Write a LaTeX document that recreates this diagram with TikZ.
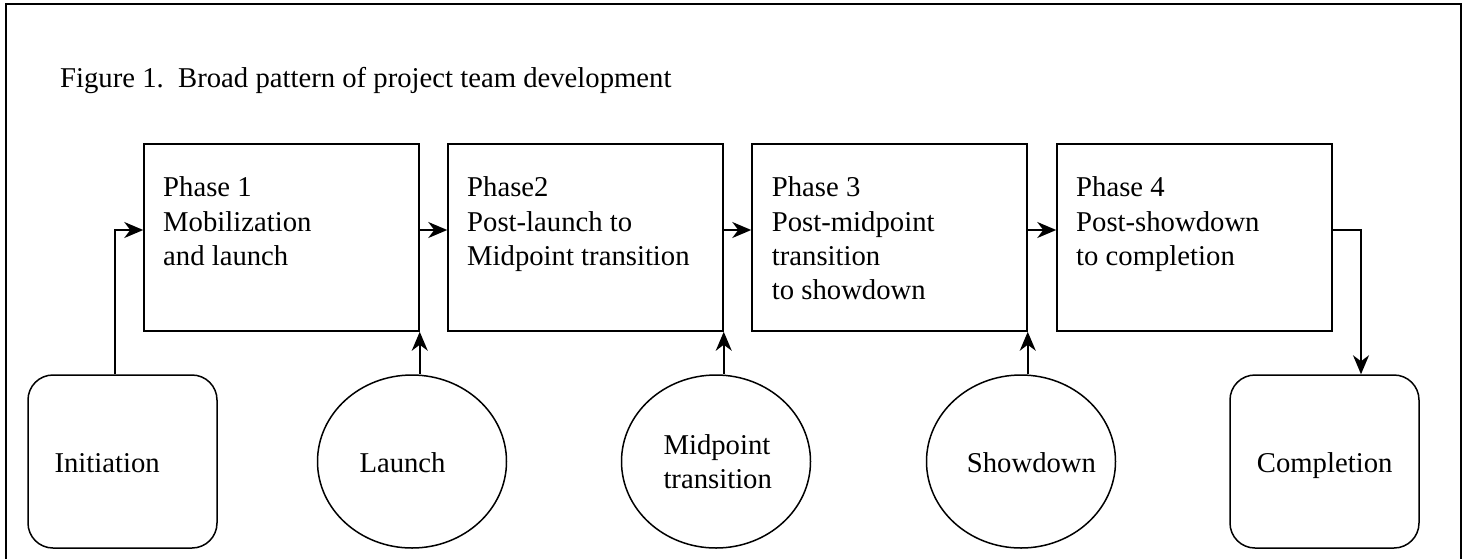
\documentclass[tikz,border=0pt]{standalone}
\usepackage{fontspec}
\setmainfont{Liberation Serif}
\usetikzlibrary{shapes.geometric,arrows.meta,calc}
\begin{document}
\begin{tikzpicture}[x=1pt,y=-1pt,
  phasebox/.style={draw,line width=1.5pt,minimum width=275pt,minimum height=187pt,inner sep=0pt},
  endbox/.style={draw,line width=1.5pt,rounded corners=25pt,minimum width=189pt,minimum height=173pt,inner sep=0pt},
  event/.style={draw,ellipse,line width=1.5pt,minimum width=189pt,minimum height=173pt,inner sep=0pt},
  lbl/.style={anchor=base west,inner sep=0pt,font=\fontsize{28.7}{34.4}\selectfont},
  arr/.style={line width=1.9pt,-{Stealth[length=19pt,width=16pt,inset=6pt]}}]
\useasboundingbox (0,0) rectangle (1470,558);
\draw[line width=1.8pt] (6,570) -- (6,4) -- (1461,4) -- (1461,570);

\node[lbl] (title) at (60,87.3) {Figure 1.\ \ Broad pattern of project team development};

\node[phasebox] (p1) at (281.5,237.5) {};
\node[phasebox] (p2) at (585.5,237.5) {};
\node[phasebox] (p3) at (889.5,237.5) {};
\node[phasebox] (p4) at (1194.5,237.5) {};

\node[lbl] (t1) at (163,196.7) {\begin{tabular}[t]{@{}l@{}}Phase 1\\ Mobilization\\ and launch\end{tabular}};
\node[lbl] (t2) at (467,196.7) {\begin{tabular}[t]{@{}l@{}}Phase2\\ Post-launch to\\ Midpoint transition\end{tabular}};
\node[lbl] (t3) at (771.7,196.7) {\begin{tabular}[t]{@{}l@{}}Phase 3\\ Post-midpoint\\ transition\\ to showdown\end{tabular}};
\node[lbl] (t4) at (1076,196.7) {\begin{tabular}[t]{@{}l@{}}Phase 4\\ Post-showdown\\ to completion\end{tabular}};

\node[endbox] (init) at (122.5,461.5) {};
\node[event] (launch) at (412,461.5) {};
\node[event] (mid) at (716,461.5) {};
\node[event] (show) at (1021,461.5) {};
\node[endbox] (comp) at (1324.5,461.5) {};

\node[lbl] (tinit) at (54.3,472.7) {Initiation};
\node[lbl] (tlaunch) at (359.3,472.7) {Launch};
\node[lbl] (tmid) at (663.3,454.3) {\begin{tabular}[t]{@{}l@{}}Midpoint\\ transition\end{tabular}};
\node[lbl] (tshow) at (966.7,472.7) {Showdown};
\node[lbl] (tcomp) at (1256.7,472.7) {Completion};

\draw[arr] ([xshift=-7.5pt]init.north) |- ([yshift=7.5pt]p1.west);
\draw[arr] ([yshift=7.5pt]p1.east) -- ([yshift=7.5pt]p2.west);
\draw[arr] ([yshift=7.5pt]p2.east) -- ([yshift=7.5pt]p3.west);
\draw[arr] ([yshift=7.5pt]p3.east) -- ([yshift=7.5pt]p4.west);
\draw[arr] ([yshift=7.5pt]p4.east) -| ([xshift=36.5pt]comp.north);
\draw[arr] (launch.north -| p1.south east) -- (p1.south east);
\draw[arr] (mid.north -| p2.south east) -- (p2.south east);
\draw[arr] (show.north -| p3.south east) -- (p3.south east);
\end{tikzpicture}
\end{document}
